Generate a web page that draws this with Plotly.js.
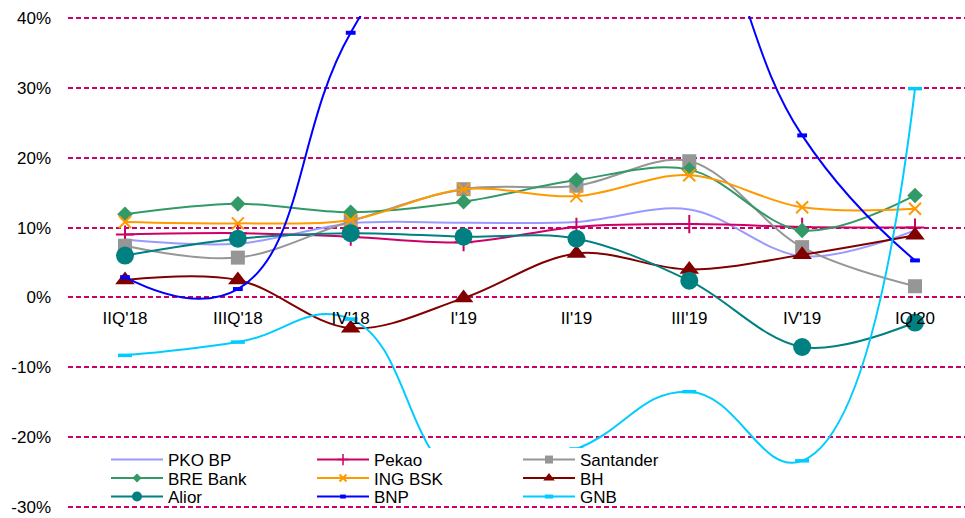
<!DOCTYPE html>
<html><head><meta charset="utf-8">
<script src="https://cdn.plot.ly/plotly-3.0.1.min.js"></script>
<style>html,body{margin:0;padding:0;background:#fff}#chart{width:965px;height:518px}</style>
</head><body><div id="chart"></div>
<script>
// ---- data (percent) ----
const categories = ["IIQ'18","IIIQ'18","IV'18","I'19","II'19","III'19","IV'19","IQ'20"];
const pkoBP     = [8.3, 7.7, 10.6, 10.7, 10.8, 12.6, 5.9, 9.6];
const pekao     = [9.0, 9.2, 8.7, 7.9, 10.1, 10.5, 10.1, 10.0];
const santander = [7.4, 5.7, 10.9, 15.5, 16.0, 19.5, 7.2, 1.6];
const breBank   = [11.9, 13.4, 12.2, 13.7, 16.8, 18.3, 9.6, 14.6];
const ingBSK    = [10.8, 10.6, 11.1, 15.5, 14.5, 17.5, 12.9, 12.7];
const bh        = [2.5, 2.5, -4.4, -0.1, 6.3, 4.0, 6.1, 8.9];
const alior     = [6.0, 8.4, 9.2, 8.7, 8.4, 2.4, -7.1, -3.6];
const bnp       = [2.9, 1.2, 37.9, 60, 70, 58, 23.2, 5.3];
const gnb       = [-8.3, -6.4, -3.1, -26, -21.7, -13.5, -23.4, 29.9];
const seriesNames = ["PKO BP","Pekao","Santander","BRE Bank","ING BSK","BH","Alior","BNP","GNB"];
const yTickVals = [-30, -20, -10, 0, 10, 20, 30, 40];
const yTickText = ["-30%","-20%","-10%","0%","10%","20%","30%","40%"];

// ---- styles ----
const FONT = 'Arial, "Liberation Sans", sans-serif';
const styles = [
  {y: pkoBP,     color:'#9999FF', mode:'lines', m:{symbol:'circle', size:1}, lm:{symbol:'circle', size:1, opacity:0}},
  {y: pekao,     color:'#CC0066', m:{symbol:'cross-thin', size:13, line:{width:2, color:'#CC0066'}},
                                  lm:{symbol:'cross-thin', size:8, line:{width:1.5, color:'#CC0066'}}},
  {y: santander, color:'#969696', m:{symbol:'square', size:14, color:'#969696'},
                                  lm:{symbol:'square', size:8, color:'#969696'}},
  {y: breBank,   color:'#339966', m:{symbol:'diamond', size:12, color:'#339966'},
                                  lm:{symbol:'diamond', size:7, color:'#339966'}},
  {y: ingBSK,    color:'#FF9900', m:{symbol:'x-thin', size:12, line:{width:2, color:'#FF9900'}},
                                  lm:{symbol:'x-thin', size:7, line:{width:2, color:'#FF9900'}}},
  {y: bh,        color:'#800000', m:{symbol:'triangle-up', size:17, color:'#800000'},
                                  lm:{symbol:'triangle-up', size:10, color:'#800000'}},
  {y: alior,     color:'#008080', m:{symbol:'circle', size:18, color:'#008080'},
                                  lm:{symbol:'circle', size:10, color:'#008080'}},
  {y: bnp,       color:'#0000FF', sm:1.3, m:{symbol:'line-ew', size:7, line:{width:4, color:'#0000FF'}},
                                  lm:{symbol:'line-ew', size:4, line:{width:4, color:'#0000FF'}}},
  {y: gnb,       color:'#00CCFF', sm:1.3, m:{symbol:'line-ew', size:10, line:{width:3.5, color:'#00CCFF'}},
                                  lm:{symbol:'line-ew', size:6, line:{width:4, color:'#00CCFF'}}}
];

// plot area geometry (px); y range padded slightly so edge gridlines are drawn
const Y0 = -30.3, Y1 = 40.3;
const L = 68, R = 965, T = 16, B = 509;
const W = R - L, H = B - T;
const pxY = py => (B - py) / H;
const pxX = px => (px - L) / W;
const colX = [106, 312, 518];
const rowY = [460, 478.5, 497];

const traces = [];
styles.forEach((s, i) => {
  traces.push({
    type:'scatter', x: categories, y: s.y, name: seriesNames[i],
    mode: s.mode || 'lines+markers',
    line: {color: s.color, width: 2, shape:'spline', smoothing: s.sm || 1},
    marker: s.m, showlegend:false, hoverinfo:'skip'
  });
});
// legend entries (no data drawn; only the key symbols)
styles.forEach((s, i) => {
  traces.push({
    type:'scatter', x:[null], y:[null], name: seriesNames[i],
    mode: s.mode || 'lines+markers',
    line: {color: s.color, width: 2},
    marker: s.lm, showlegend:true,
    legend: i === 0 ? 'legend' : 'legend' + (i + 1),
    hoverinfo:'skip'
  });
});

const layout = {
  width: 965, height: 518,
  margin: {l: L, r: 965 - R, t: T, b: 518 - B, pad: 0},
  paper_bgcolor:'#fff', plot_bgcolor:'#fff',
  font: {family: FONT, size: 17, color:'#000'},
  showlegend: true,
  xaxis: {
    type:'category',
    range: [(L - 125) / 112.857, (R - 125) / 112.857],
    anchor:'free', position: (0 - Y0) / (Y1 - Y0),
    showgrid:false, zeroline:false, showline:false, ticks:'',
    ticklabelstandoff: 9,
    tickfont: {family: FONT, size: 17, color:'#000'},
    fixedrange:true
  },
  yaxis: {
    range: [Y0, Y1],
    tickvals: yTickVals, ticktext: yTickText,
    showgrid:true, gridcolor:'#CC0066', gridwidth:2, griddash:'5px,3px',
    zeroline:false, showline:false, ticks:'',
    ticklabelstandoff: 16,
    tickfont: {family: FONT, size: 17, color:'#000'},
    fixedrange:true
  },
  shapes: [{
    type:'rect', xref:'paper', yref:'paper', layer:'above',
    x0: pxX(100), x1: pxX(668), y0: pxY(504), y1: pxY(448),
    fillcolor:'#ffffff', line:{width:0}
  }]
};

// one small legend per entry, arranged in 3 columns x 3 rows
seriesNames.forEach((n, i) => {
  const key = i === 0 ? 'legend' : 'legend' + (i + 1);
  const col = i % 3, row = Math.floor(i / 3);
  layout[key] = {
    x: pxX(colX[col]), y: pxY(rowY[row]),
    xanchor:'left', yanchor:'middle',
    bgcolor:'rgba(0,0,0,0)', borderwidth:0,
    font:{family: FONT, size: 17, color:'#000'},
    itemsizing:'trace', itemwidth: 52,
    itemclick:false, itemdoubleclick:false
  };
});

Plotly.newPlot('chart', traces, layout, {staticPlot:true, displayModeBar:false});
</script>
</body></html>
